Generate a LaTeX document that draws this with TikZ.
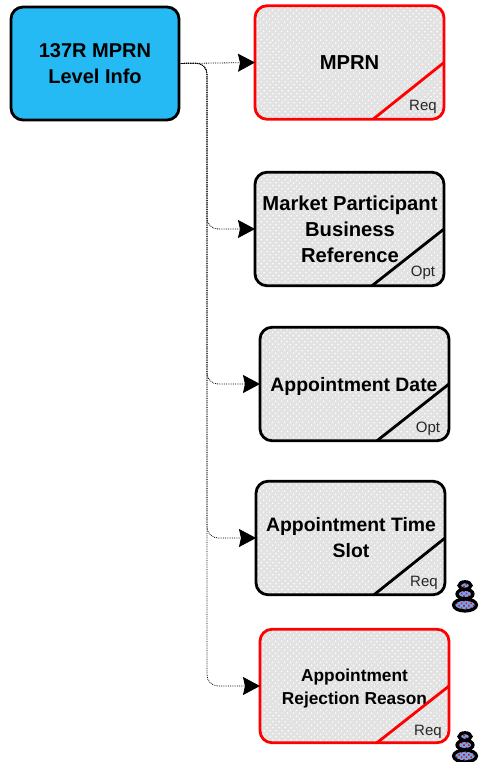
\documentclass[tikz,border=0pt]{standalone}
\usepackage{fontspec}
\setmainfont{Liberation Sans}
\usetikzlibrary{arrows.meta,patterns.meta,shapes.geometric}

\definecolor{mainblue}{RGB}{38,186,244}
\definecolor{boxgray}{RGB}{226,226,226}
\definecolor{reqred}{RGB}{255,0,0}
\definecolor{tierblue}{RGB}{100,170,250}

\tikzset{
  mainbox/.style={draw=black,line width=2.8pt,rounded corners=12pt,fill=mainblue,minimum width=168pt,minimum height=113pt,inner sep=0pt,outer sep=0pt,align=center,font=\fontsize{20}{26}\selectfont\bfseries},
  leafbox/.style={draw=black,line width=2.8pt,rounded corners=12pt,preaction={fill=boxgray},pattern={Dots[distance=4pt,radius=0.9pt,angle=45]},pattern color=white,minimum width=189pt,minimum height=113.5pt,inner sep=0pt,outer sep=0pt},
  reqbox/.style={leafbox,draw=reqred},
  leaftext/.style={align=center,font=\fontsize{20.2}{26}\selectfont\bfseries},
  corner/.style={font=\fontsize{15}{15}\selectfont,text=black!85},
  link/.style={densely dotted,line width=0.8pt,rounded corners=11pt,-{Stealth[length=17pt,width=18pt,inset=2pt]}},
  tier/.style={ellipse,draw=black,line width=3.2pt,preaction={fill=tierblue},pattern={Dots[distance=3.4pt,radius=1.1pt,angle=45]},pattern color=red,inner sep=0pt,outer sep=0pt}
}

\begin{document}
\begin{tikzpicture}[x=1pt,y=-1pt]
\useasboundingbox (0,0) rectangle (479,762);

\node[mainbox] (main) at (95,63.5) {137R MPRN\\Level Info};

\node[reqbox] (mprn) at (349.5,62.5) {};
\node[leafbox] (mpbr) at (349.5,229) {};
\node[leafbox] (date) at (354.5,384) {};
\node[leafbox] (slot) at (350.5,538) {};
\node[reqbox] (reason) at (354.5,686) {};

\node[leaftext] (mprnt) at (mprn) {MPRN};
\node[leaftext] (mpbrt) at (350,229) {Market Participant\\Business\\Reference};
\node[leaftext,font=\fontsize{19.4}{26}\selectfont\bfseries] (datet) at (354,386) {Appointment Date};
\node[leaftext,font=\fontsize{19.4}{26}\selectfont\bfseries] (slott) at (351,538) {Appointment Time\\Slot};
\node[leaftext,font=\fontsize{17.3}{23}\selectfont\bfseries] (reasont) at (354.5,689) {Appointment\\Rejection Reason};

% corner marks
\draw[reqred,line width=2.8pt] (mprn.east) -- ([xshift=23.5pt]mprn.south);
\draw[black,line width=2.8pt] (mpbr.east) -- ([xshift=22.5pt]mpbr.south);
\draw[black,line width=2.8pt] (date.east) -- ([xshift=22.5pt]date.south);
\draw[black,line width=2.8pt] (slot.east) -- ([xshift=23.5pt]slot.south);
\draw[reqred,line width=2.8pt] (reason.east) -- ([xshift=22.5pt]reason.south);

\node[corner] (mprnc) at (423,107) {Req};
\node[corner] (mpbrc) at (423,273) {Opt};
\node[corner] (datec) at (428,428.5) {Opt};
\node[corner] (slotc) at (424,582.5) {Req};
\node[corner] (reasonc) at (428,731.5) {Req};

\coordinate (bend) at (207,63);
\draw[link] (main.east) -- (mprn.west);
\draw[link] (main.east) -- (bend) |- (mpbr.west);
\draw[link] (main.east) -- (bend) |- (date.west);
\draw[link] (main.east) -- (bend) |- (slot.west);
\draw[link] (main.east) -- (bend) |- (reason.west);

% stacked icons
\node[tier,minimum width=23pt,minimum height=12pt] (ia3) at (465,605) {};
\node[tier,minimum width=16pt,minimum height=9.5pt] (ia2) at (465,594) {};
\node[tier,minimum width=12pt,minimum height=7.5pt] (ia1) at (465,585.5) {};
\node[tier,minimum width=23pt,minimum height=12pt] (ib3) at (465,756) {};
\node[tier,minimum width=16pt,minimum height=9.5pt] (ib2) at (465,745) {};
\node[tier,minimum width=12pt,minimum height=7.5pt] (ib1) at (465,736.5) {};
\end{tikzpicture}
\end{document}
